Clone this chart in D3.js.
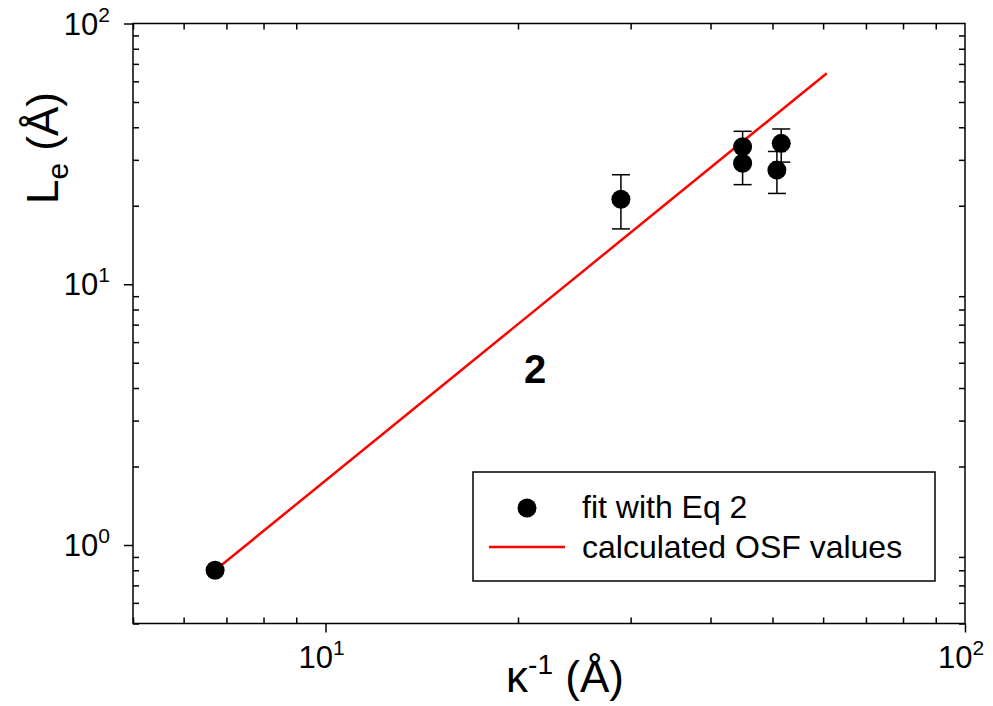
<!DOCTYPE html>
<html>
<head>
<meta charset="utf-8">
<script src="https://cdn.jsdelivr.net/npm/d3@7"></script>
<style>
  body { margin: 0; background: #fff; }
  text { font-family: "Liberation Sans", Arial, sans-serif; fill: #000; }
</style>
</head>
<body>
<svg id="chart" width="993" height="706"></svg>
<script>
// fitted points (Eq 2), kappa^-1 in Å vs Le in Å
const kappa = [6.72, 28.97, 44.9, 44.9, 50.8, 51.6];
const le = [0.80, 21.2, 33.7, 29.1, 27.4, 34.7];
const leUpper = [null, 26.3, 38.6, 34.1, 32.3, 39.4];
const leLower = [null, 16.3, 28.8, 24.1, 22.3, 29.4];

// calculated OSF values
const osfKappa = [6.72, 60.8];
const osfLe = [0.80, 64.5];

const xMajor = [10, 100];
const yMajor = [1, 10, 100];
const legendLabels = ["fit with Eq 2", "calculated OSF values"];

const WIDTH = 993;
const HEIGHT = 706;
const LEFT = 133, RIGHT = 965, TOP = 23.5, BOTTOM = 623.5;

const svg = d3.select("#chart");

const x = d3.scaleLog().domain([5, 100]).range([LEFT, RIGHT]);
const y = d3.scaleLog().domain([0.5, 100]).range([BOTTOM, TOP]);

const xMinor = x.ticks().filter(v => !xMajor.includes(v));
const yMinor = y.ticks().filter(v => !yMajor.includes(v));

const styleAxis = g => {
  g.select(".domain").remove();
  g.selectAll("line").attr("stroke", "#000").attr("stroke-width", 1.5);
};

// minor ticks, pointing inward on all four sides
svg.append("g").attr("transform", `translate(0,${BOTTOM})`)
  .call(d3.axisBottom(x).tickValues(xMinor).tickSize(-6).tickFormat(""))
  .call(styleAxis);
svg.append("g").attr("transform", `translate(0,${TOP})`)
  .call(d3.axisTop(x).tickValues(xMinor).tickSize(-6).tickFormat(""))
  .call(styleAxis);
svg.append("g").attr("transform", `translate(${LEFT},0)`)
  .call(d3.axisLeft(y).tickValues(yMinor).tickSize(-6).tickFormat(""))
  .call(styleAxis);
svg.append("g").attr("transform", `translate(${RIGHT},0)`)
  .call(d3.axisRight(y).tickValues(yMinor).tickSize(-6).tickFormat(""))
  .call(styleAxis);

// major ticks, outward on left and bottom
svg.append("g").attr("transform", `translate(0,${BOTTOM})`)
  .call(d3.axisBottom(x).tickValues(xMajor).tickSize(9).tickFormat(""))
  .call(styleAxis);
svg.append("g").attr("transform", `translate(${LEFT},0)`)
  .call(d3.axisLeft(y).tickValues(yMajor).tickSize(9).tickFormat(""))
  .call(styleAxis);

// frame
svg.append("rect")
  .attr("x", LEFT).attr("y", TOP)
  .attr("width", RIGHT - LEFT).attr("height", BOTTOM - TOP)
  .attr("fill", "none").attr("stroke", "#000").attr("stroke-width", 1.5);

// tick labels as 10^n
const powLabel = (sel) => {
  sel.append("tspan").text("10");
  sel.append("tspan").attr("dy", -13).attr("font-size", 21)
    .text(d => Math.round(Math.log10(d)));
};

svg.append("g").selectAll("text")
  .data(xMajor).enter().append("text")
  .attr("x", d => x(d) - 4)
  .attr("y", 668)
  .attr("text-anchor", "middle")
  .attr("font-size", 31)
  .call(powLabel);

svg.append("g").selectAll("text")
  .data(yMajor).enter().append("text")
  .attr("x", 110)
  .attr("y", d => y(d) + 11)
  .attr("text-anchor", "end")
  .attr("font-size", 31)
  .call(powLabel);

// axis titles
const xTitle = svg.append("text")
  .attr("x", 565).attr("y", 692)
  .attr("text-anchor", "middle")
  .attr("font-size", 44);
xTitle.append("tspan").text("κ");
xTitle.append("tspan").attr("dy", -18).attr("font-size", 28).text("-1");
xTitle.append("tspan").attr("dy", 18).text(" (Å)");

const yTitle = svg.append("text")
  .attr("transform", "translate(58,148) rotate(-90)")
  .attr("text-anchor", "middle")
  .attr("font-size", 44);
yTitle.append("tspan").text("L");
yTitle.append("tspan").attr("dy", 10).attr("font-size", 30).text("e");
yTitle.append("tspan").attr("dy", -10).text(" (Å)");

// OSF line
const line = d3.line().x(d => x(d[0])).y(d => y(d[1]));
svg.append("path")
  .datum(d3.zip(osfKappa, osfLe))
  .attr("d", line)
  .attr("fill", "none")
  .attr("stroke", "#ff0000")
  .attr("stroke-width", 2.5);

// error bars
const pts = kappa.map((k, i) => ({ k, v: le[i], hi: leUpper[i], lo: leLower[i] }));
const err = svg.append("g").attr("stroke", "#000").attr("stroke-width", 1.5)
  .selectAll("g").data(pts.filter(d => d.hi != null)).enter().append("g");
err.append("line")
  .attr("x1", d => x(d.k)).attr("x2", d => x(d.k))
  .attr("y1", d => y(d.lo)).attr("y2", d => y(d.hi));
err.append("line")
  .attr("x1", d => x(d.k) - 9).attr("x2", d => x(d.k) + 9)
  .attr("y1", d => y(d.hi)).attr("y2", d => y(d.hi));
err.append("line")
  .attr("x1", d => x(d.k) - 9).attr("x2", d => x(d.k) + 9)
  .attr("y1", d => y(d.lo)).attr("y2", d => y(d.lo));

// points
svg.append("g").selectAll("circle")
  .data(pts).enter().append("circle")
  .attr("cx", d => x(d.k))
  .attr("cy", d => y(d.v))
  .attr("r", 9.5)
  .attr("fill", "#000");

// annotation
svg.append("text")
  .attr("x", 524).attr("y", 383)
  .attr("font-size", 40).attr("font-weight", "bold")
  .text("2");

// legend
const legend = svg.append("g");
legend.append("rect")
  .attr("x", 473).attr("y", 472).attr("width", 462).attr("height", 109)
  .attr("fill", "#fff").attr("stroke", "#000").attr("stroke-width", 1.5);
legend.append("circle").attr("cx", 527).attr("cy", 508).attr("r", 9.5).attr("fill", "#000");
legend.append("line")
  .attr("x1", 489).attr("x2", 565).attr("y1", 547).attr("y2", 547)
  .attr("stroke", "#ff0000").attr("stroke-width", 2.5);
legend.selectAll("text.lg")
  .data(legendLabels).enter().append("text")
  .attr("class", "lg")
  .attr("x", 582)
  .attr("y", (d, i) => 518 + i * 40)
  .attr("font-size", 32)
  .text(d => d);
</script>
</body>
</html>
